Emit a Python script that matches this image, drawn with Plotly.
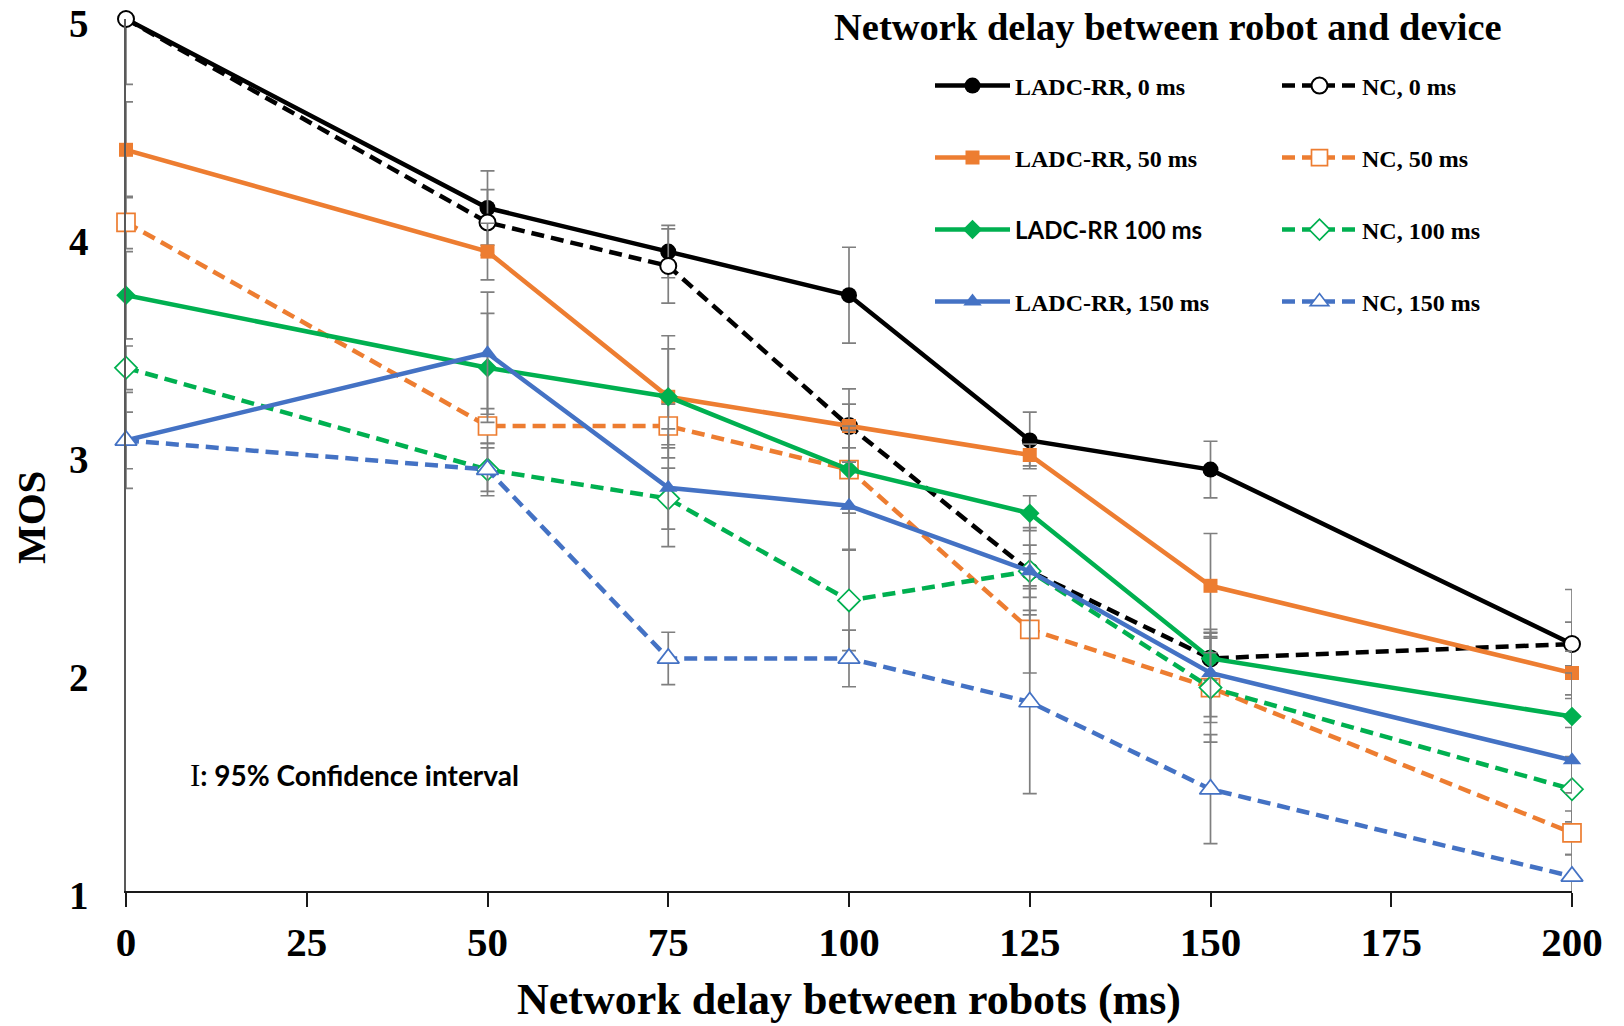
import plotly.graph_objects as go

# ---------------- data ----------------
delay = [0, 50, 75, 100, 125, 150, 200]
x_tick_vals = [0, 25, 50, 75, 100, 125, 150, 175, 200]
y_tick_vals = [1, 2, 3, 4, 5]

ladc_0 = [5.0, 4.133, 3.933, 3.733, 3.067, 2.933, 2.133]
nc_0 = [5.0, 4.067, 3.867, 3.133, 2.467, 2.067, 2.133]
ladc_50 = [4.4, 3.933, 3.267, 3.133, 3.0, 2.4, 2.0]
nc_50 = [4.067, 3.133, 3.133, 2.933, 2.2, 1.933, 1.267]
ladc_100 = [3.733, 3.4, 3.267, 2.933, 2.733, 2.067, 1.8]
nc_100 = [3.4, 2.933, 2.8, 2.333, 2.467, 1.933, 1.467]
ladc_150 = [3.067, 3.467, 2.85, 2.767, 2.467, 2.0, 1.6]
nc_150 = [3.067, 2.933, 2.067, 2.067, 1.867, 1.467, 1.067]

# 95% confidence interval half-widths
ci_ladc_0 = [0.3, 0.17, 0.12, 0.22, 0.13, 0.13, 0.25]
ci_nc_0 = [0.0, 0.15, 0.17, 0.17, 0.08, 0.12, 0.1]
ci_ladc_50 = [0.22, 0.13, 0.28, 0.1, 0.05, 0.24, 0.1]
ci_nc_50 = [0.12, 0.08, 0.1, 0.2, 0.2, 0.25, 0.1]
ci_ladc_100 = [0.2, 0.25, 0.22, 0.18, 0.08, 0.1, 0.2]
ci_nc_100 = [0.1, 0.1, 0.14, 0.23, 0.12, 0.16, 0.15]
ci_ladc_150 = [0.22, 0.28, 0.27, 0.2, 0.2, 0.2, 0.15]
ci_nc_150 = [0.13, 0.12, 0.12, 0.13, 0.42, 0.25, 0.1]

series_names = ["LADC-RR, 0 ms", "NC, 0 ms", "LADC-RR, 50 ms", "NC, 50 ms",
                "LADC-RR 100 ms", "NC, 100 ms", "LADC-RR, 150 ms", "NC, 150 ms"]
series_values = [ladc_0, nc_0, ladc_50, nc_50, ladc_100, nc_100, ladc_150, nc_150]
series_ci = [ci_ladc_0, ci_nc_0, ci_ladc_50, ci_nc_50, ci_ladc_100, ci_nc_100,
             ci_ladc_150, ci_nc_150]

# ---------------- style ----------------
BLACK, ORANGE, GREEN, BLUE = "#000000", "#ED7D31", "#00B050", "#4472C4"
colors = [BLACK, BLACK, ORANGE, ORANGE, GREEN, GREEN, BLUE, BLUE]
symbols = ["circle", "circle-open", "square", "square-open",
           "diamond", "diamond-open", "triangle-up", "triangle-up-open"]
sizes = [16, 16, 14, 18, 15, 17, 16, 19]
dashes = ["solid", "dash"] * 4
SERIF = "Liberation Serif"
SANS = "Lato"

W, H = 1624, 1026
ML, MR, MT, MB = 126, 52, 19, 135
PW, PH = W - ML - MR, H - MT - MB


def px(X):
    return (X - ML) / PW


def py(Y):
    return (H - MB - Y) / PH


fig = go.Figure()

row_y = [86, 158, 230, 302]
col_x = [930, 1277]

for i, (name, vals, ci) in enumerate(zip(series_names, series_values, series_ci)):
    is_open = symbols[i].endswith("open")
    if is_open:
        marker = dict(symbol=symbols[i].replace("-open", ""), size=sizes[i],
                      color="white", line=dict(color=colors[i], width=2 if i == 1 else 1.7))
    else:
        marker = dict(symbol=symbols[i], size=sizes[i], color=colors[i],
                      line=dict(width=0))
    disp_name = name
    if name == "LADC-RR 100 ms":
        disp_name = f'<span style="font-family:{SANS}">{name}</span>'
    leg = "legend" if i == 0 else f"legend{i + 1}"
    fig.add_trace(go.Scatter(
        x=delay, y=vals, name=disp_name, mode="lines+markers",
        line=dict(color=colors[i], width=4.5,
                  dash="solid" if dashes[i] == "solid" else "13px,7px"),
        marker=marker,
        error_y=dict(type="data", array=ci, visible=True, color="#7F7F7F",
                     thickness=1.7, width=7),
        cliponaxis=False, legend=leg,
    ))

legend_common = dict(bgcolor="rgba(0,0,0,0)", borderwidth=0, itemwidth=75,
                     font=dict(family=SERIF, size=24, color="black", weight="bold"),
                     xanchor="left", yanchor="middle", itemclick=False)
layout_legends = {}
for i in range(8):
    key = "legend" if i == 0 else f"legend{i + 1}"
    layout_legends[key] = dict(legend_common, x=px(col_x[i % 2]), y=py(row_y[i // 2]))

fig.update_layout(
    width=W, height=H,
    margin=dict(l=ML, r=MR, t=MT, b=MB, autoexpand=False),
    paper_bgcolor="white", plot_bgcolor="white",
    showlegend=True,
    xaxis=dict(range=[0, 200], tickvals=x_tick_vals, ticktext=[str(v) for v in x_tick_vals],
               showgrid=False, zeroline=False, showline=True, linecolor="#1a1a1a",
               linewidth=2, ticks="outside", ticklen=14, tickwidth=1.5, tickcolor="#1a1a1a",
               ticklabelstandoff=0, ticklabeloverflow="allow", automargin=False,
               tickfont=dict(family=SERIF, size=41, color="black", weight="bold")),
    yaxis=dict(range=[1, 5], tickvals=y_tick_vals, showgrid=False, zeroline=False,
               showline=True, linecolor="#595959", linewidth=1.5, ticks="",
               ticklabelstandoff=28, ticklabelshift=4, ticklabeloverflow="allow",
               automargin=False,
               tickfont=dict(family=SERIF, size=39, color="black", weight="bold")),
    annotations=[
        dict(text="MOS", x=px(31), y=py(518), xref="paper", yref="paper",
             textangle=-90, showarrow=False, xanchor="center", yanchor="middle",
             font=dict(family=SERIF, size=41, color="black", weight="bold")),
        dict(text="Network delay between robots (ms)", x=px(849), y=py(999),
             xref="paper", yref="paper", showarrow=False, xanchor="center",
             yanchor="middle",
             font=dict(family=SERIF, size=44, color="black", weight="bold")),
        dict(text="Network delay between robot and device", x=px(1168), y=py(27),
             xref="paper", yref="paper", showarrow=False, xanchor="center",
             yanchor="middle",
             font=dict(family=SERIF, size=38.5, color="black", weight="bold")),
        dict(text=f'<span style="font-family:{SERIF};font-weight:normal;font-size:31px">I</span>: 95% Confidence interval',
             x=px(188), y=py(775), xref="paper", yref="paper", showarrow=False,
             xanchor="left", yanchor="middle",
             font=dict(family=SANS, size=28, color="black", weight="bold")),
    ],
    **layout_legends,
)

fig.write_html("out.html", config={"displayModeBar": False},
               post_script="document.body.style.margin='0';")
